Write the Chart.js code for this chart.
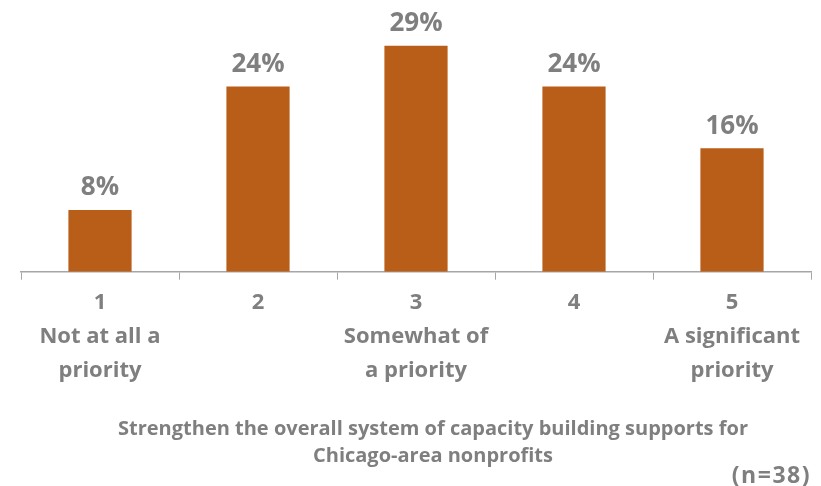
<!DOCTYPE html>
<html>
<head>
<meta charset="utf-8">
<script src="https://cdn.jsdelivr.net/npm/chart.js@4"></script>
<style>
  html, body { margin: 0; padding: 0; background: #fff; }
  #wrap { position: relative; width: 821px; height: 486px; }
  #axisTitle {
    position: absolute; left: 45px; width: 776px; top: 414px;
    text-align: center; line-height: 27px;
    font: bold 20px "Open Sans", sans-serif; color: #7f7f7f;
  }
  #note {
    position: absolute; right: 10px; top: 458px; line-height: 28px;
    letter-spacing: 1.5px;
    font: bold 23px "Open Sans", sans-serif; color: #7f7f7f;
  }
</style>
</head>
<body>
<div id="wrap">
  <canvas id="chart" width="821" height="486"></canvas>
  <div id="axisTitle"></div>
  <div id="note">(n=38)</div>
</div>
<script>
// Categories (rating scale) and share of respondents in %
const categories = [
    ['1', 'Not at all a', 'priority'],
    ['2'],
    ['3', 'Somewhat of', 'a priority'],
    ['4'],
    ['5', 'A significant', 'priority'],
];
const shares = [7.9, 23.7, 28.9, 23.7, 15.8];
const axisTitle = ['Strengthen the overall system of capacity building supports for', 'Chicago-area nonprofits'];

const barColor = '#b95e18';
const textColor = '#7f7f7f';

// Axis title sits a little right of centre in the original, so it goes in a div
document.getElementById('axisTitle').innerHTML = axisTitle.join('<br>');

// Draw the % value above each bar
const valueLabels = {
    id: 'valueLabels',
    afterDatasetsDraw(chart) {
        const ctx = chart.ctx;
        const meta = chart.getDatasetMeta(0);
        ctx.save();
        ctx.font = 'bold 26px "Open Sans", sans-serif';
        ctx.fillStyle = textColor;
        ctx.textAlign = 'center';
        ctx.textBaseline = 'bottom';
        meta.data.forEach((bar, i) => {
            ctx.fillText(Math.round(shares[i]) + '%', bar.x, bar.y - 9);
        });
        ctx.restore();
    }
};

new Chart(document.getElementById('chart'), {
    type: 'bar',
    data: {
        labels: categories,
        datasets: [{
            data: shares,
            backgroundColor: barColor,
            categoryPercentage: 1,
            barPercentage: 0.4,
        }],
    },
    options: {
        responsive: false,
        animation: false,
        layout: { padding: { top: 6, left: 21, right: 10, bottom: 92 } },
        plugins: {
            legend: { display: false },
            tooltip: { enabled: false },
        },
        scales: {
            x: {
                grid: {
                    display: true,
                    drawOnChartArea: false,
                    tickLength: 8,
                    color: '#a6a6a6',
                },
                border: { color: '#a6a6a6', width: 1.5 },
                ticks: {
                    color: textColor,
                    padding: 6,
                    maxRotation: 0,
                    font: { family: 'Open Sans', size: 22, weight: 'bold', lineHeight: 1.55 },
                },
            },
            y: {
                display: false,
                min: 0,
                max: 34,
            },
        },
    },
    plugins: [valueLabels],
});
</script>
</body>
</html>
